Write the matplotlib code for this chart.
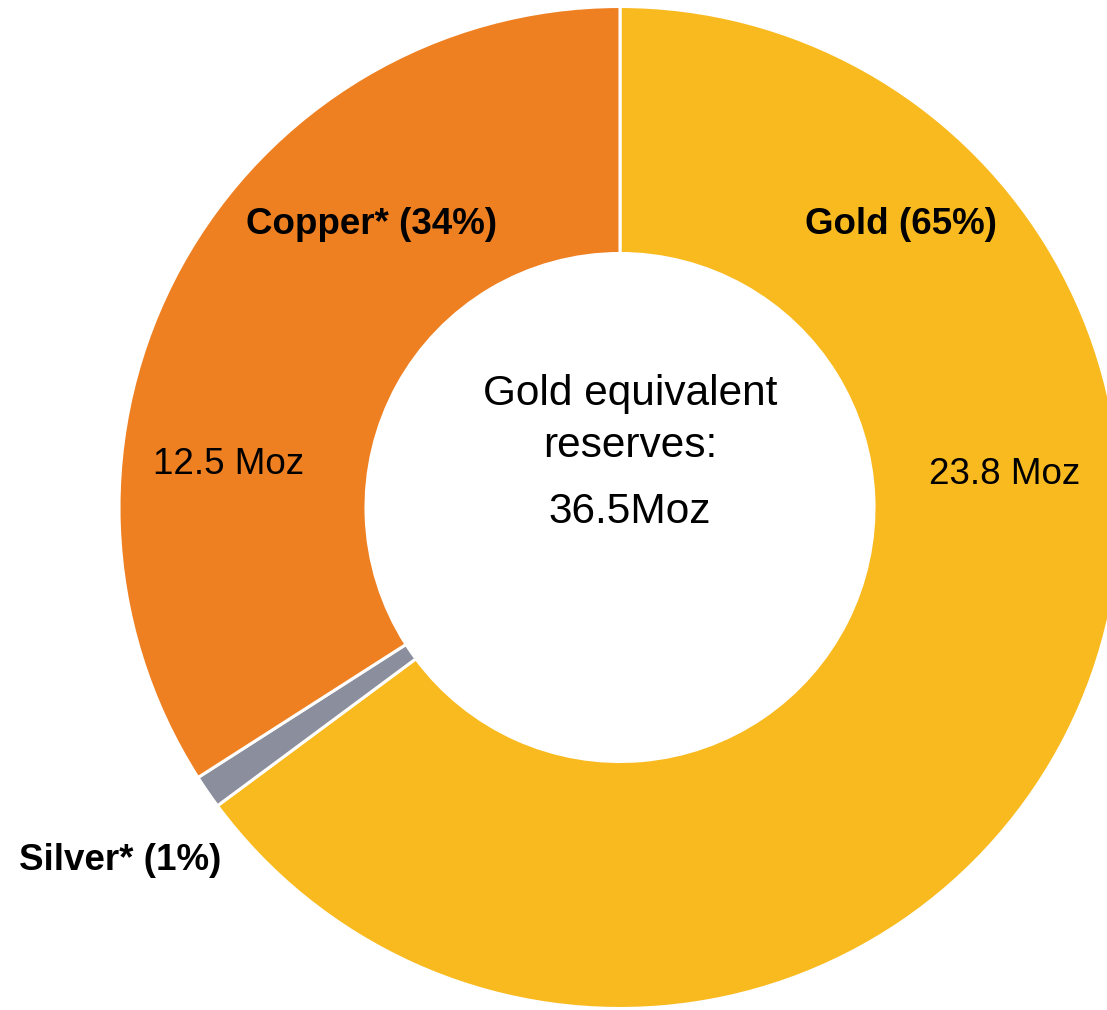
import matplotlib
matplotlib.use("Agg")
import matplotlib.pyplot as plt

plt.rcParams['font.family'] = ['Liberation Sans', 'DejaVu Sans']

# Reserve composition (Moz, gold equivalent)
metals = ["Gold", "Silver*", "Copper*"]
reserves_moz = [23.8, 0.4, 12.5]
shares_pct = [65, 1, 34]
colors = ["#F8BA1F", "#8B8E9C", "#EE8022"]
total_label = "36.5Moz"

W, H = 1107, 1010
fig = plt.figure(figsize=(W / 100, H / 100), dpi=100)
ax = fig.add_axes([0, 0, 1, 1])

cx, cy = 620, H - 507.5
R = 501
ax.pie(reserves_moz, colors=colors, startangle=90, counterclock=False,
       center=(cx, cy), radius=R,
       wedgeprops=dict(width=R * 0.493, edgecolor="white", linewidth=2.2),
       frame=True)
ax.set_xlim(0, W)
ax.set_ylim(0, H)
ax.set_aspect("equal")
ax.axis("off")

# Labels are placed in pixel-like coordinates (y measured from the top)
def put(x, y_top, s, size, bold=False):
    ax.text(x, H - y_top - 4, s, fontsize=size,
            fontweight="bold" if bold else "normal",
            ha="center", va="center")

lab_fs = 26.5
put(901, 221, f"{metals[0]} ({shares_pct[0]}%)", lab_fs, bold=True)
put(372, 221, f"{metals[2]} ({shares_pct[2]}%)", lab_fs, bold=True)
put(120, 857, f"{metals[1]} ({shares_pct[1]}%)", lab_fs, bold=True)
put(1005, 470, f"{reserves_moz[0]} Moz", lab_fs)
put(229, 461, f"{reserves_moz[2]} Moz", lab_fs)

ctr_fs = 30.5
put(630, 390, "Gold equivalent", ctr_fs)
put(630, 442, "reserves:", ctr_fs)
put(630, 508, total_label, ctr_fs)

fig.savefig("out.png", dpi=100, facecolor="white")
